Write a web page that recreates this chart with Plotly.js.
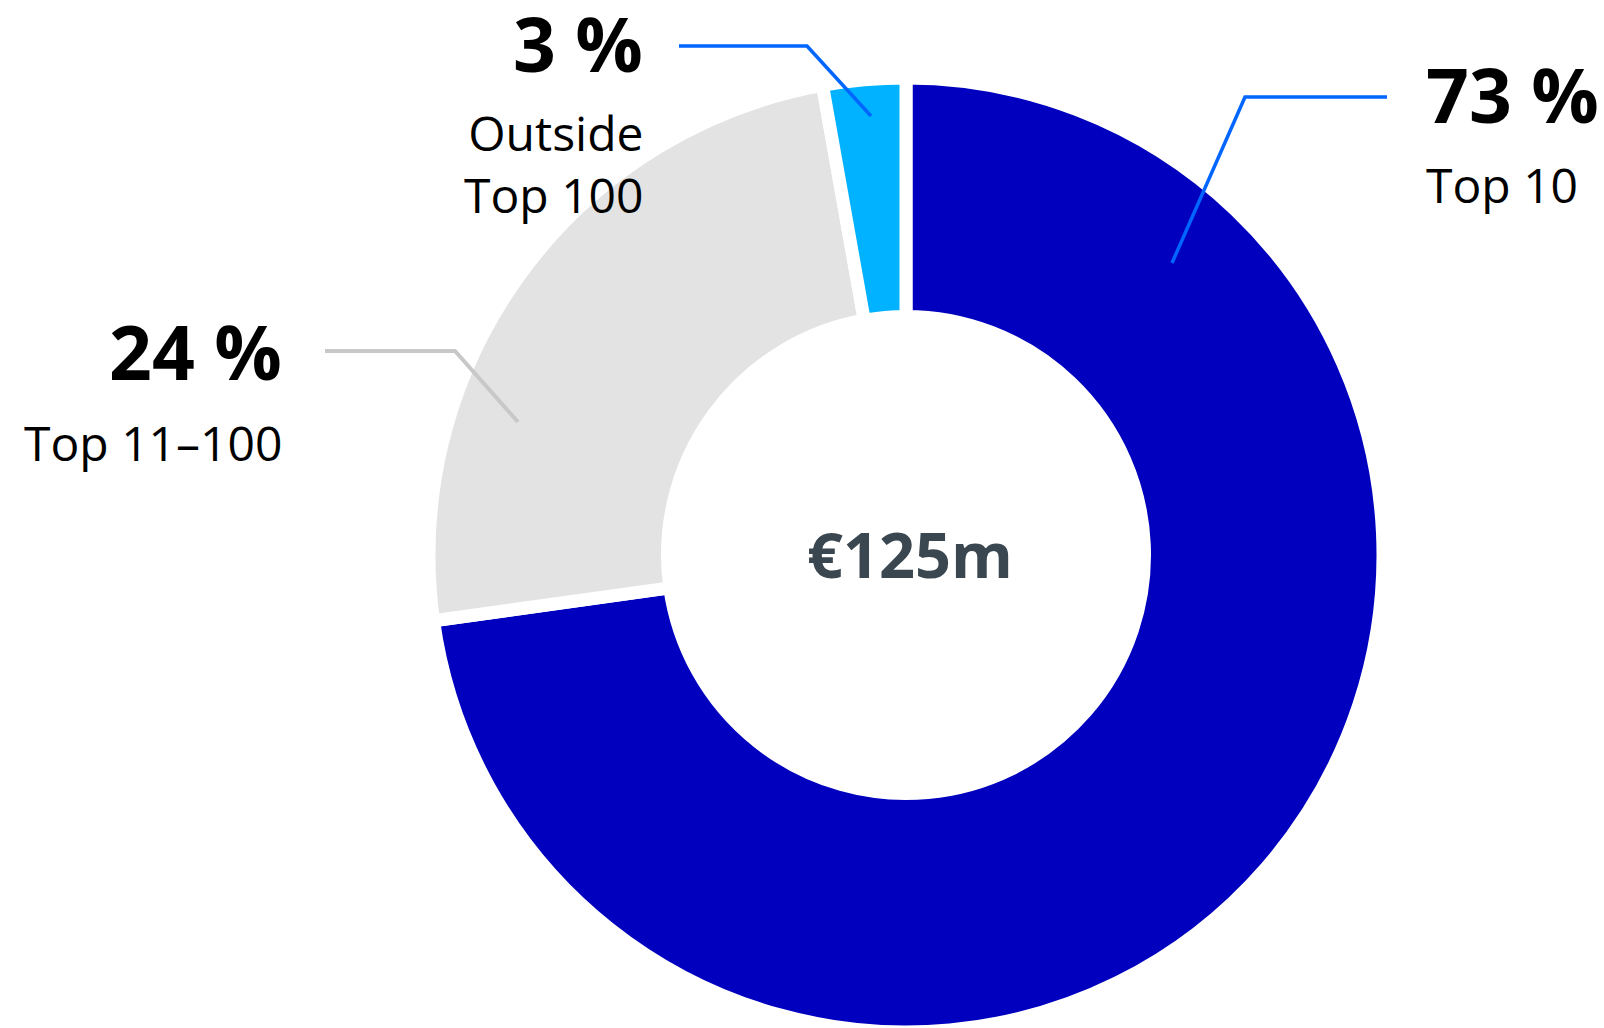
<!DOCTYPE html>
<html>
<head>
<meta charset="utf-8">
<script src="https://cdn.plot.ly/plotly-3.0.1.min.js"></script>
<style>html,body{margin:0;padding:0;background:#fff;overflow:hidden;}#chart{width:1604px;height:1032px;}</style>
</head>
<body>
<div id="chart"></div>
<script>
// ---- data ----
const categories = ['Top 10', 'Top 11–100', 'Outside Top 100'];
const shares = [72.8, 24.4, 2.8];
const shareLabels = ['73 %', '24 %', '3 %'];
const nameLabels = ['Top 10', 'Top 11–100', 'Outside<br>Top 100'];
const sliceColors = ['#0000BE', '#E3E3E3', '#00B2FF'];
const leaderColors = ['#0066FF', '#C8C8C8', '#0066FF'];
const centerLabel = '€125m';

// ---- layout helpers (pixel -> paper) ----
const W = 1604, H = 1032;
const px = x => x / W;
const py = y => 1 - y / H;

const R = 477;           // pie radius in px
const cx = 906, cy = H - R;

const FONT = '"Open Sans", "Noto Sans", sans-serif';

// label placement per category
const labelPos = [
  {x: 1425, base: 123, nameBase: 203, anchor: 'left'},
  {x: 283, base: 380, nameBase: 461, anchor: 'right'},
  {x: 644, base: 72, nameBase: 182, anchor: 'right'}
];
// leader polylines: points in px
const leaders = [
  [[1172, 263], [1245, 97], [1387, 97]],
  [[518, 422], [455, 351], [325, 351]],
  [[871, 116], [807, 46], [679, 46]]
];
const leaderWidths = [3.5, 4, 3.5];

const annotations = [];
const shapes = [];
const PCT = 75, NAME = 48;
categories.forEach((c, i) => {
  const lp = labelPos[i];
  annotations.push({
    xref: 'paper', yref: 'paper', x: px(lp.x), y: py(lp.base - 0.388 * PCT),
    xanchor: lp.anchor, yanchor: 'middle', showarrow: false, borderpad: 0,
    text: shareLabels[i], font: {family: FONT, size: PCT, color: '#000', weight: 700}
  });
  annotations.push({
    xref: 'paper', yref: 'paper', x: px(lp.x), y: py(lp.nameBase - 0.388 * NAME),
    xanchor: lp.anchor, yanchor: 'middle', align: lp.anchor, showarrow: false, borderpad: 0,
    text: nameLabels[i], font: {family: FONT, size: NAME, color: '#000', weight: 400}
  });
  const pts = leaders[i];
  const d = pts.map((p, k) => (k ? 'L' : 'M') + px(p[0]) + ',' + py(p[1])).join(' ');
  shapes.push({type: 'path', xref: 'paper', yref: 'paper', path: d,
    line: {color: leaderColors[i], width: leaderWidths[i]}});
});

annotations.push({
  xref: 'paper', yref: 'paper', x: px(cx + 4), y: py(553), xanchor: 'center', yanchor: 'middle',
  showarrow: false, borderpad: 0, text: centerLabel,
  font: {family: FONT, size: 63, color: '#3B4750', weight: 700}
});

const trace = {
  type: 'pie',
  labels: categories,
  values: shares,
  hole: 0.5,
  sort: false,
  direction: 'clockwise',
  rotation: 0,
  textinfo: 'none',
  hoverinfo: 'label',
  marker: {colors: sliceColors, line: {color: '#ffffff', width: 13}},
  domain: {x: [px(cx - R), px(cx + R)], y: [0, (2 * R) / H]}
};

const layout = {
  width: W, height: H,
  margin: {l: 0, r: 0, t: 0, b: 0},
  paper_bgcolor: '#fff',
  showlegend: false,
  font: {family: FONT},
  annotations: annotations,
  shapes: shapes
};

Plotly.newPlot('chart', [trace], layout, {displayModeBar: false, staticPlot: true});
</script>
</body>
</html>
